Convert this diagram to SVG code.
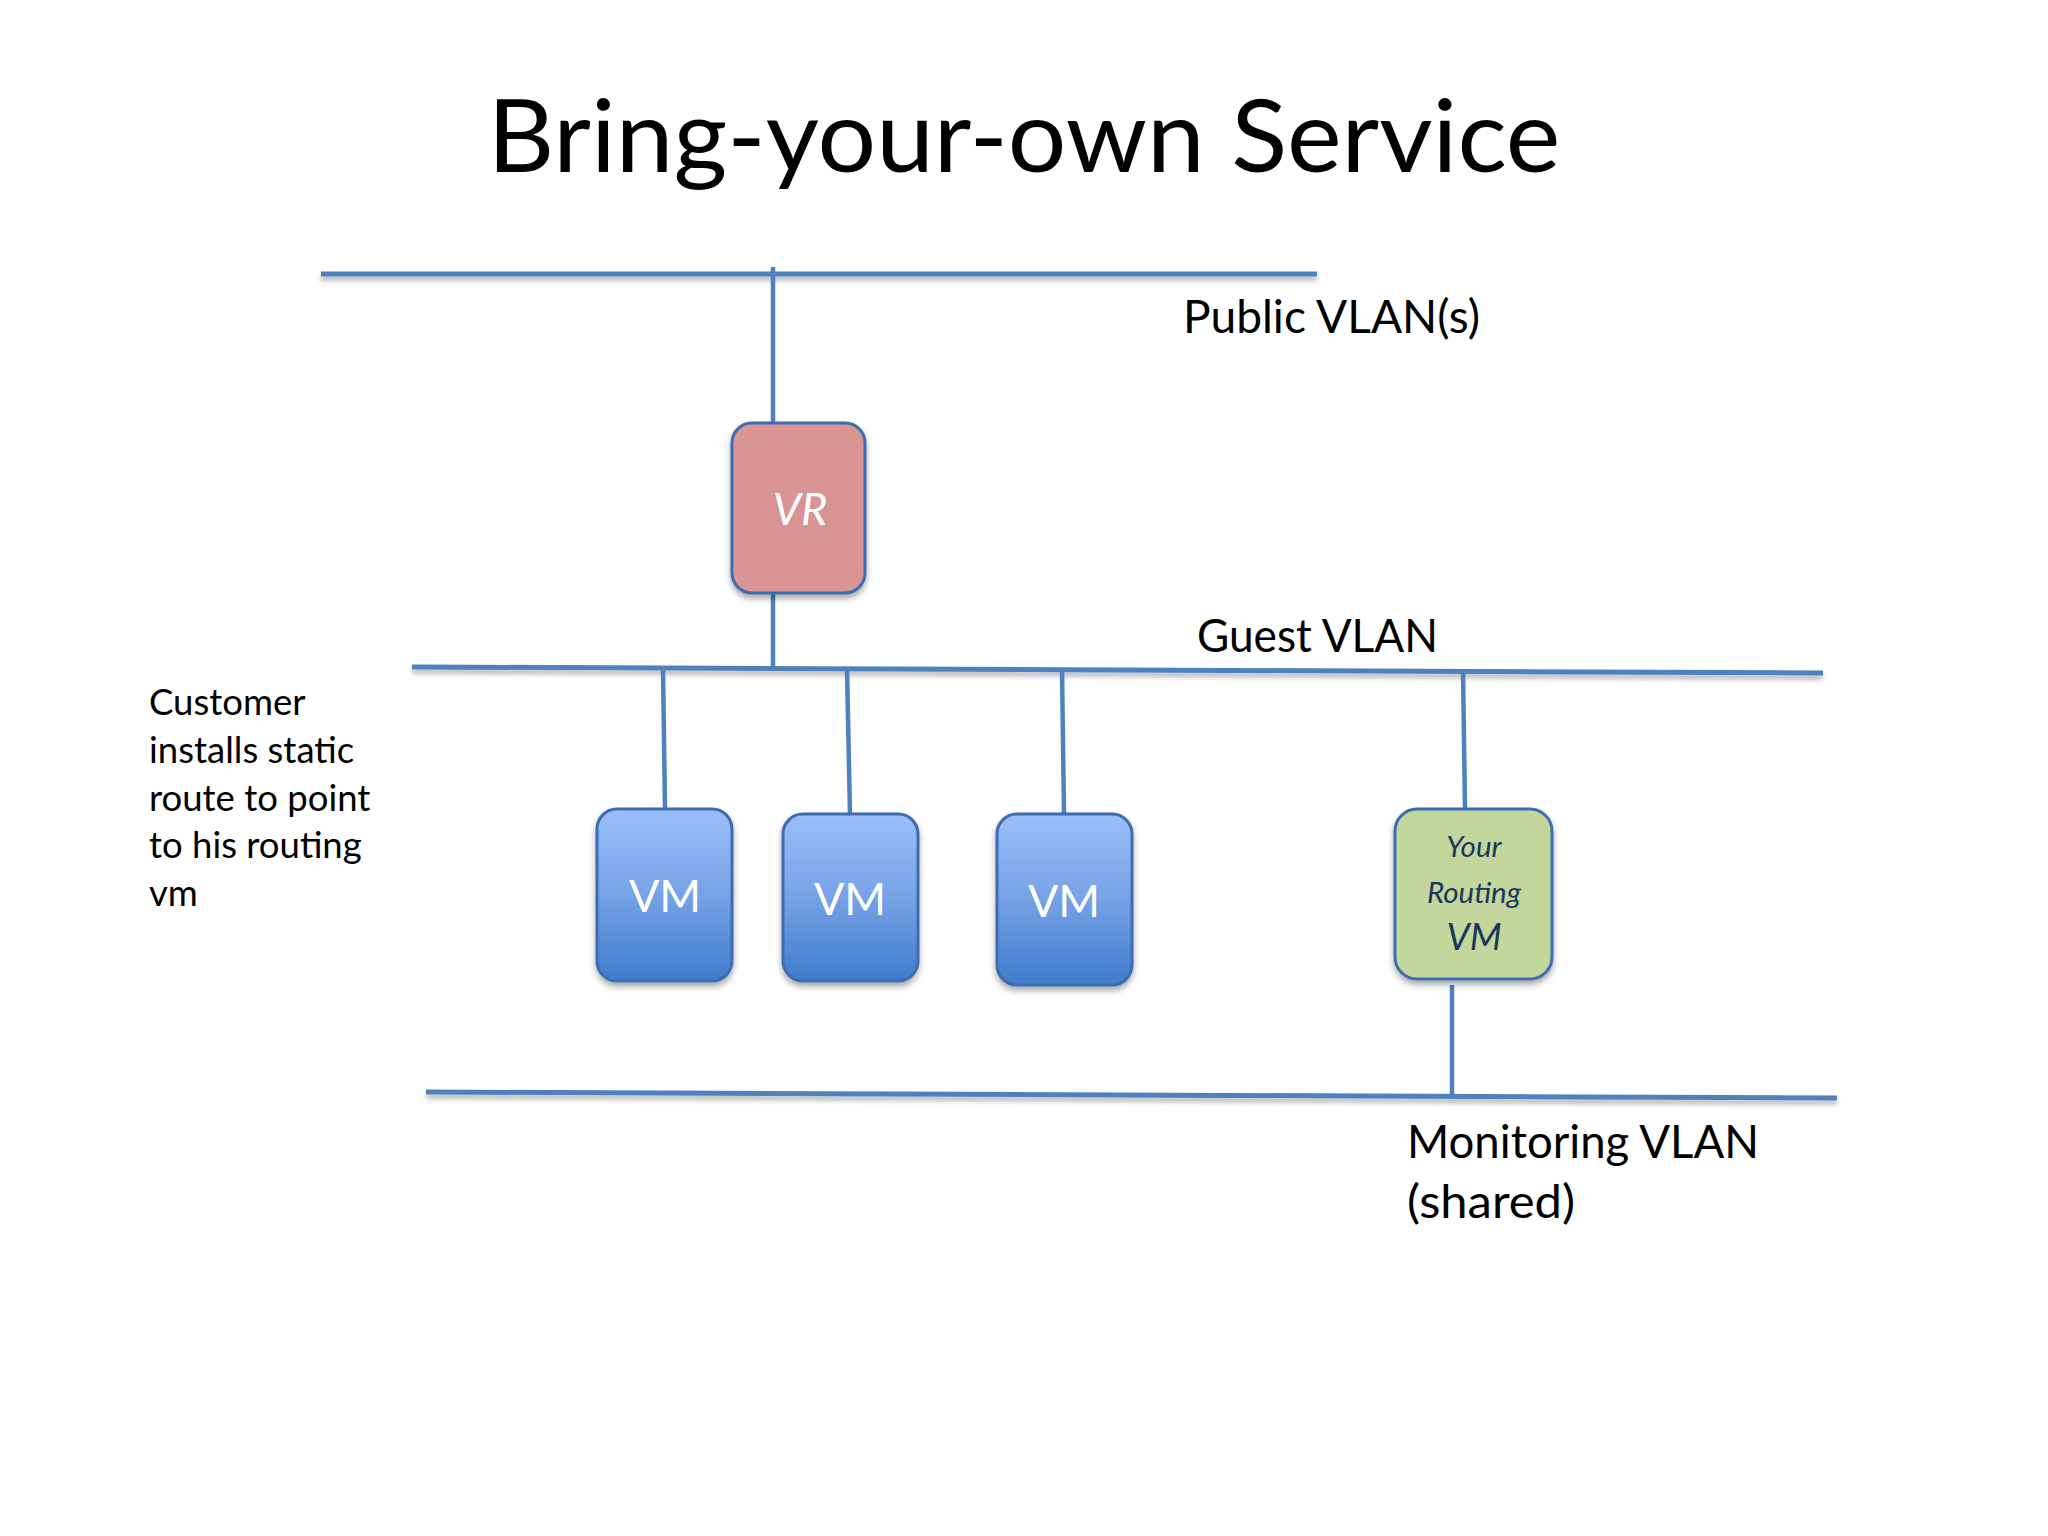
<svg xmlns="http://www.w3.org/2000/svg" width="2048" height="1536" viewBox="0 0 2048 1536">
<style>
  .txt { font-family: Lato, "Open Sans", "Liberation Sans", sans-serif; fill: #000; }
  .bus { stroke: #4f81bd; stroke-width: 5; fill: none; filter: url(#lshadow); }
  .link { stroke: #4f81bd; stroke-width: 4.5; fill: none; }
  .box { stroke: #3d6db0; stroke-width: 3; filter: url(#bshadow); }
  .vm { fill: url(#vmgrad); }
  .vr { fill: #d99594; }
  .rt { fill: #c3d69b; }
  .wlabel { font-family: Lato, "Open Sans", "Liberation Sans", sans-serif; fill: #ffffff; text-anchor: middle; }
  .blabel { font-family: Lato, "Open Sans", "Liberation Sans", sans-serif; fill: #17375e; text-anchor: middle; font-style: italic; }
</style>
<defs>
  <linearGradient id="vmgrad" x1="0" y1="0" x2="0" y2="1">
    <stop offset="0" stop-color="#9cbefa"/>
    <stop offset="0.5" stop-color="#76a2e6"/>
    <stop offset="1" stop-color="#3f7ccb"/>
  </linearGradient>
  <filter id="bshadow" x="-20%" y="-20%" width="140%" height="140%">
    <feDropShadow dx="0" dy="4" stdDeviation="3" flood-color="#000" flood-opacity="0.35"/>
  </filter>
  <filter id="lshadow" filterUnits="userSpaceOnUse" x="0" y="0" width="2048" height="1536">
    <feDropShadow dx="0" dy="4" stdDeviation="2.5" flood-color="#000" flood-opacity="0.3"/>
  </filter>
</defs>
<rect width="2048" height="1536" fill="#ffffff"/>

<text id="title" class="txt" x="1024" y="172" font-size="100" text-anchor="middle" textLength="1073" lengthAdjust="spacingAndGlyphs">Bring-your-own Service</text>

<g id="public-vlan">
  <line class="bus" x1="321" y1="274" x2="1317" y2="274"/>
  <text class="txt" x="1183" y="333" font-size="46" textLength="297" lengthAdjust="spacingAndGlyphs">Public VLAN(s)</text>
</g>
<g id="guest-vlan">
  <line class="bus" x1="412" y1="667" x2="1823" y2="673"/>
  <text class="txt" x="1197" y="652" font-size="46" textLength="241" lengthAdjust="spacingAndGlyphs">Guest VLAN</text>
</g>
<g id="monitoring-vlan">
  <line class="bus" x1="426" y1="1092" x2="1837" y2="1098"/>
  <text class="txt" x="1407" y="1158" font-size="46" textLength="352" lengthAdjust="spacingAndGlyphs">Monitoring VLAN</text>
  <text class="txt" x="1407" y="1218" font-size="46" textLength="168" lengthAdjust="spacingAndGlyphs">(shared)</text>
</g>

<g id="connectors">
  <line class="link" x1="773" y1="267" x2="773" y2="423"/>
  <line class="link" x1="773" y1="593" x2="773" y2="669"/>
  <line class="link" x1="663" y1="668" x2="665" y2="809"/>
  <line class="link" x1="847" y1="669" x2="850" y2="814"/>
  <line class="link" x1="1062" y1="670" x2="1064" y2="814"/>
  <line class="link" x1="1463" y1="670" x2="1465" y2="809"/>
  <line class="link" x1="1452" y1="985" x2="1452" y2="1096"/>
</g>

<g id="vr">
  <rect class="box vr" x="732" y="423" width="133" height="170" rx="20" ry="20"/>
  <text class="wlabel" x="800" y="525" font-size="45" font-style="italic">VR</text>
</g>
<g id="vm1">
  <rect class="box vm" x="597" y="809" width="135" height="172" rx="20" ry="20"/>
  <text class="wlabel" x="665" y="912" font-size="45">VM</text>
</g>
<g id="vm2">
  <rect class="box vm" x="783" y="814" width="135" height="167" rx="20" ry="20"/>
  <text class="wlabel" x="850" y="915" font-size="45">VM</text>
</g>
<g id="vm3">
  <rect class="box vm" x="997" y="814" width="135" height="171" rx="20" ry="20"/>
  <text class="wlabel" x="1064" y="917" font-size="45">VM</text>
</g>
<g id="routing-vm">
  <rect class="box rt" x="1395" y="809" width="157" height="170" rx="22" ry="22"/>
  <text class="blabel" x="1474" y="857" font-size="29.5">Your</text>
  <text class="blabel" x="1474" y="903" font-size="29.5">Routing</text>
  <text class="blabel" x="1474" y="950" font-size="37">VM</text>
</g>

<g id="note">
  <text class="txt" font-size="36.5">
    <tspan x="149" y="715">Customer</tspan>
    <tspan x="149" y="763">installs static</tspan>
    <tspan x="149" y="811">route to point</tspan>
    <tspan x="149" y="858">to his routing</tspan>
    <tspan x="149" y="906">vm</tspan>
  </text>
</g>
</svg>
